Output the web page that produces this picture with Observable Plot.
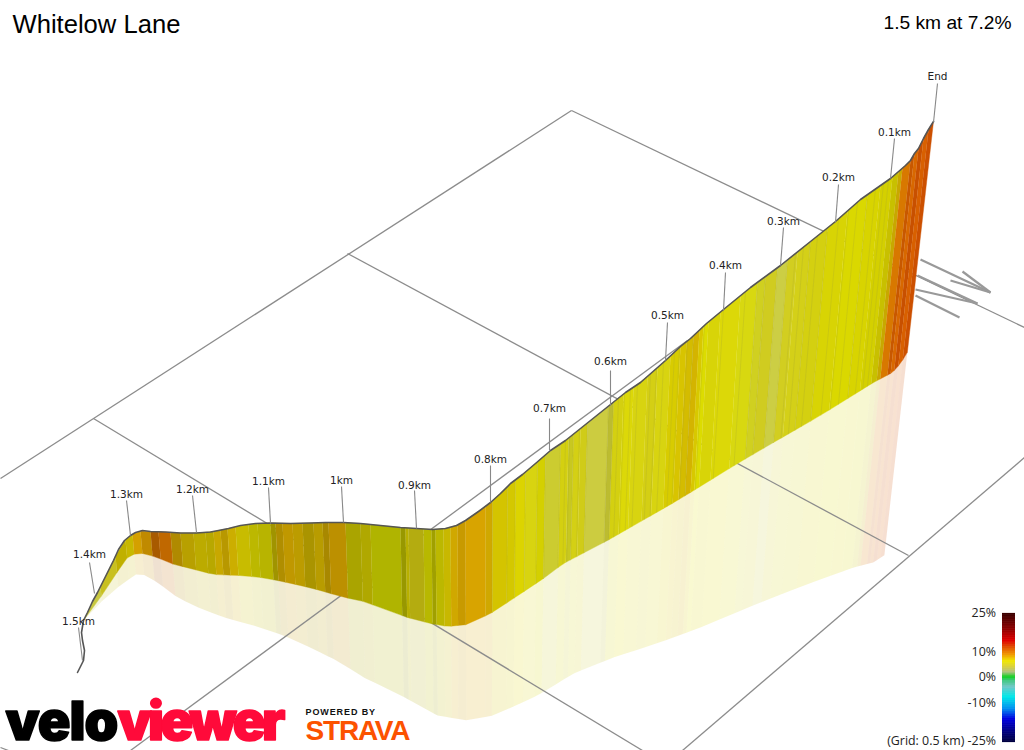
<!DOCTYPE html>
<html><head><meta charset="utf-8">
<style>
html,body{margin:0;padding:0;background:#fff;overflow:hidden}
svg{display:block}
.velo text{letter-spacing:-1px}
.view text{letter-spacing:-3.5px}
.pow text{letter-spacing:.9px}
.str text{letter-spacing:-1.2px}
</style>
<script src="https://cdn.jsdelivr.net/npm/d3@7"></script>
<script src="https://cdn.jsdelivr.net/npm/@observablehq/plot@0.6"></script>
</head><body><script>
const title = "Whitelow Lane";
const summary = "1.5 km at 7.2%";

// Road profile (projected picture coordinates)
const tailX = [77,79,83,84,82,81,83];
const tailY = [672,668,660,650,640,632,620];
const topX = [83,87,92,97,102,108,113,118,124,130,135,142,150,165,180,196,210,218,228,240,255,270,290,310,325,343,360,380,400,416,432,445,456,465,478,490,500,510,522,535,550,565,590,610,625,640,665,680,690,706,723,750,780,810,835,860,890,905,910,914,918,923,928,933];
const topY = [620,612,601,592,582,570,560,549,540,535,532,530,531,531.5,532.5,532.5,531.5,530,528,525,523,522.5,523,522.5,522,522,523,525,527,528,529,528,525,520,511,502,493,483,474,463,450,440,420,404,392,382,360,346,338,323,309,287,265,241,221,199,178,165,160,153,148,138,129,121];
const baseX = [83,100,113,127,135,143,157,170,190,213,240,260,277,300,320,340,363,407,430,447,467,490,510,543,563,607,670,690,737,773,820,873,892,900,908];
const baseY = [620,597,577,557,553,553,557,563,568,574,575,577,580,585,590,596,601,617,623,626,624,613,600,578,563,540,504,492,463,442,415,382,372,363,350];
const shadowX = [83,100,117,135,143,157,177,200,227,253,283,310,340,363,397,437,467,493,537,573,613,650,670,700,750,790,817,853,873,888];
const shadowY = [620,602,587,574,574,582,597,608,618,625,635,647,662,677,693,715,720,715,695,673,657,645,638,627,606,590,580,567,562,552];

// Gradient-coloured bands along the wall: band edge on the road, and band colour
const bandEdge = [83,100,115,125,132,140,150,158,170,180,193,205,213,220,227,235,248,257,270,275,282,292,302,313,322,328,345,360,370,400,405,408,423,431,435,443,450,457,465,485,492,507,515,525,537,545,560,568,573,580,587,608,613,623,633,647,657,670,680,686,693,699,703,708,720,740,757,765,777,787,797,810,827,847,867,880,892,898,902,910,914,918,923,928,933];
const bandColor = ["#c8c840","#c8c020","#c0b000","#c8b800","#d4a000","#c08a00","#a85a00","#c06800","#b08a00","#b8a000","#bcab00","#b8a800","#c8a800","#b89800","#ccae00","#c8bc00","#bcb800","#b8b400","#a09400","#b08e00","#c09800","#bc9c00","#aa9400","#b89c00","#a88800","#bc9000","#aaa400","#b0a800","#b0b400","#989800","#b8b000","#b4ac10","#b8b800","#a0a000","#bcb800","#c8b800","#d0a800","#c89a00","#d8a400","#d0a800","#d4c400","#d4c800","#dcd400","#d8d410","#d4d000","#cccc30","#d4d010","#c8c820","#d4d014","#d0cc18","#cccc40","#bcbc30","#d4d010","#dcd808","#d8d410","#d4cf14","#d8d410","#d8cc00","#d8c400","#d4bc00","#d4b400","#d8c800","#dcdc00","#d8d408","#dcd808","#d8d810","#d0d020","#d0cc20","#ccce44","#d2ce20","#d4d018","#d4d010","#d8d404","#dad800","#d8d400","#d4d000","#c8c000","#c8a800","#d87800","#c85800","#d86800","#c85000","#d86000","#cc5000"];
const stripeX = [492,507,515,525,537,545,560,565,569,573,579,587,608,613,618,624,630,637,650,656,663,674,679,687,693,704,723,745,757,765,777,787,795,803,810,817,827,838,848,857,867,875,883,888];

// Grid and wind arrow segments
const gridX1 = [571,571,347,93,687,682,0];
const gridY1 = [110,110,253,418,340,750,747];
const gridX2 = [0,1024,908,642,130,1024,8];
const gridY2 = [478,327,555,750,750,457,750];
const arrowX1 = [920,962,950,917,915,915];
const arrowY1 = [259,271,280,275,289,295];
const arrowX2 = [990,990,990,977,977,959];
const arrowY2 = [292,292,292,303,303,317];

// Distance markers
const markLabel = ["1.5km","1.4km","1.3km","1.2km","1.1km","1km","0.9km","0.8km","0.7km","0.6km","0.5km","0.4km","0.3km","0.2km","0.1km","End"];
const markX = [78,89,126,192,268,341,414,490,549,610,667,725,783,838,894,937];
const markY = [621,554,494,489.5,481,480,485,459,408,361,315,265,221,177,132,76];
const stemX1 = [78,89,126,192,268,341,414,490,549,610,667,725,783,838,894,937];
const stemY1 = [627,562,500,495,487,486,490,465,418,370,322,272,227,184,138,83];
const stemX2 = [82,94,130,196,270,343,416,490,549,610,665,723,780,835,890,933];
const stemY2 = [660,593,535,532,523,522,528,502,450,405,360,310,265,222,178,122];

// Gradient legend
const legendTicks = [25,10,0,-10,-25];
const legendLabels = ["25%","10%","0%","-10%","(Grid: 0.5 km) -25%"];
const legendDomain = [-25,-21,-16,-12,-7.4,-3.5,-1,0.4,2.3,4.3,6.6,9.4,12,14.6,19,25];
const legendRange = ["#000040","#000080","#0000e0","#0090f0","#00e8e8","#70c8c8","#40c880","#10d020","#b0c080","#d8d040","#f0e800","#f09000","#e05000","#e00000","#900000","#3c0000"];

// Place a band edge on the lower curves, following the picture's perspective lean
const at = (cx, cy, x) => {
  if (x <= cx[0]) return cy[0];
  for (let i = 1; i < cx.length; i++) if (x <= cx[i]) return cy[i-1] + (cy[i]-cy[i-1])*(x-cx[i-1])/(cx[i]-cx[i-1]);
  return cy[cy.length-1];
};
const foot = (tx, cx, cy) => {
  const ty = at(topX, topY, tx), lean = (480 - tx)/4000;
  let b = tx;
  for (let k = 0; k < 5; k++) b = tx + lean*(at(cx, cy, b) - ty);
  return [b, at(cx, cy, b)];
};
const wall = [], shade = [];
bandColor.forEach((color, i) => {
  const a = bandEdge[i], c = bandEdge[i+1];
  const ba = foot(a, baseX, baseY), bc = foot(c, baseX, baseY);
  const sa = foot(a, shadowX, shadowY), sc = foot(c, shadowX, shadowY);
  [[a, at(topX,topY,a)], [c, at(topX,topY,c)], bc, ba].forEach(p => wall.push({x:p[0], y:p[1], band:i, color}));
  [ba, bc, sc, sa].forEach(p => shade.push({x:p[0], y:p[1], band:i, color}));
});
const stripes = stripeX.flatMap((x, i) => {
  const b = foot(x, baseX, baseY);
  return [{x, y: at(topX,topY,x), s:i}, {x:b[0], y:b[1], s:i}];
});
const profile = [...tailX.map((x,i)=>({x,y:tailY[i]})), ...topX.slice(1).map((x,i)=>({x,y:topY[i+1]}))];
const legendY = g => 677 - g*2.56;
const legendGrades = d3.range(-25, 25.01, 0.25);
const seg = (a,b,c,d) => a.map((x1,i)=>({x1,y1:b[i],x2:c[i],y2:d[i]}));

const chart = Plot.plot({
  width:1024, height:750, margin:0,
  x:{domain:[0,1024], range:[0,1024], axis:null},
  y:{domain:[0,750], range:[0,750], axis:null},
  color:{type:"linear", domain:legendDomain, range:legendRange, interpolate:"rgb"},
  style:{background:"#fff"},
  marks:[
    Plot.line(shade,{x:"x",y:"y",z:"band",fill:{value:"color",scale:null},fillOpacity:0.18,stroke:"none"}),
    Plot.link(seg(gridX1,gridY1,gridX2,gridY2),{x1:"x1",y1:"y1",x2:"x2",y2:"y2",stroke:"#8c8c8c",strokeWidth:1.3}),
    Plot.link(seg(arrowX1,arrowY1,arrowX2,arrowY2),{x1:"x1",y1:"y1",x2:"x2",y2:"y2",stroke:"#999",strokeWidth:2.2}),
    Plot.line(wall,{x:"x",y:"y",z:"band",fill:{value:"color",scale:null},stroke:{value:"color",scale:null},strokeWidth:0.4}),
    Plot.line(stripes,{x:"x",y:"y",z:"s",stroke:"#a8a830",strokeOpacity:0.3,strokeWidth:0.9}),
    Plot.line(profile,{x:"x",y:"y",stroke:"#555",strokeWidth:1.6}),
    Plot.link(seg(stemX1,stemY1,stemX2,stemY2),{x1:"x1",y1:"y1",x2:"x2",y2:"y2",stroke:"#888",strokeWidth:1.1}),
    Plot.text(markLabel,{x:(d,i)=>markX[i],y:(d,i)=>markY[i],text:d=>d,fontFamily:"DejaVu Sans",fontSize:10.5,fill:"#222"}),
    Plot.ruleY(legendGrades,{y:legendY,x1:1002,x2:1015,stroke:d=>d,strokeWidth:1.2}),
    Plot.text(legendLabels,{x:995.5,y:(d,i)=>legendY(legendTicks[i]),text:d=>d,textAnchor:"end",fontFamily:"Open Sans",fontSize:12.4,fill:"#222"}),
    Plot.text([title],{x:12,y:24,text:d=>d,textAnchor:"start",fontFamily:"Liberation Sans",fontSize:25.6,fill:"#000"}),
    Plot.text([summary],{x:1011,y:22,text:d=>d,textAnchor:"end",fontFamily:"Liberation Sans",fontSize:19.2,fill:"#000"}),
    Plot.text(["velo"],{x:5,y:722,text:d=>d,textAnchor:"start",fontFamily:"Inter",fontWeight:900,fontSize:54,fill:"#000",stroke:"#000",strokeWidth:1.6,className:"velo"}),
    Plot.text(["viewer"],{x:117,y:722,text:d=>d,textAnchor:"start",fontFamily:"Inter",fontWeight:900,fontSize:54,fill:"#ff0a3a",stroke:"#ff0a3a",strokeWidth:1.6,className:"view"}),
    Plot.text(["POWERED BY"],{x:305,y:712,text:d=>d,textAnchor:"start",fontFamily:"Liberation Sans",fontWeight:700,fontSize:9,fill:"#111",className:"pow"}),
    Plot.text(["STRAVA"],{x:305,y:731,text:d=>d,textAnchor:"start",fontFamily:"Liberation Sans",fontWeight:700,fontSize:28,fill:"#fc5200",className:"str"})
  ]
});
document.body.appendChild(chart);
</script></body></html>
